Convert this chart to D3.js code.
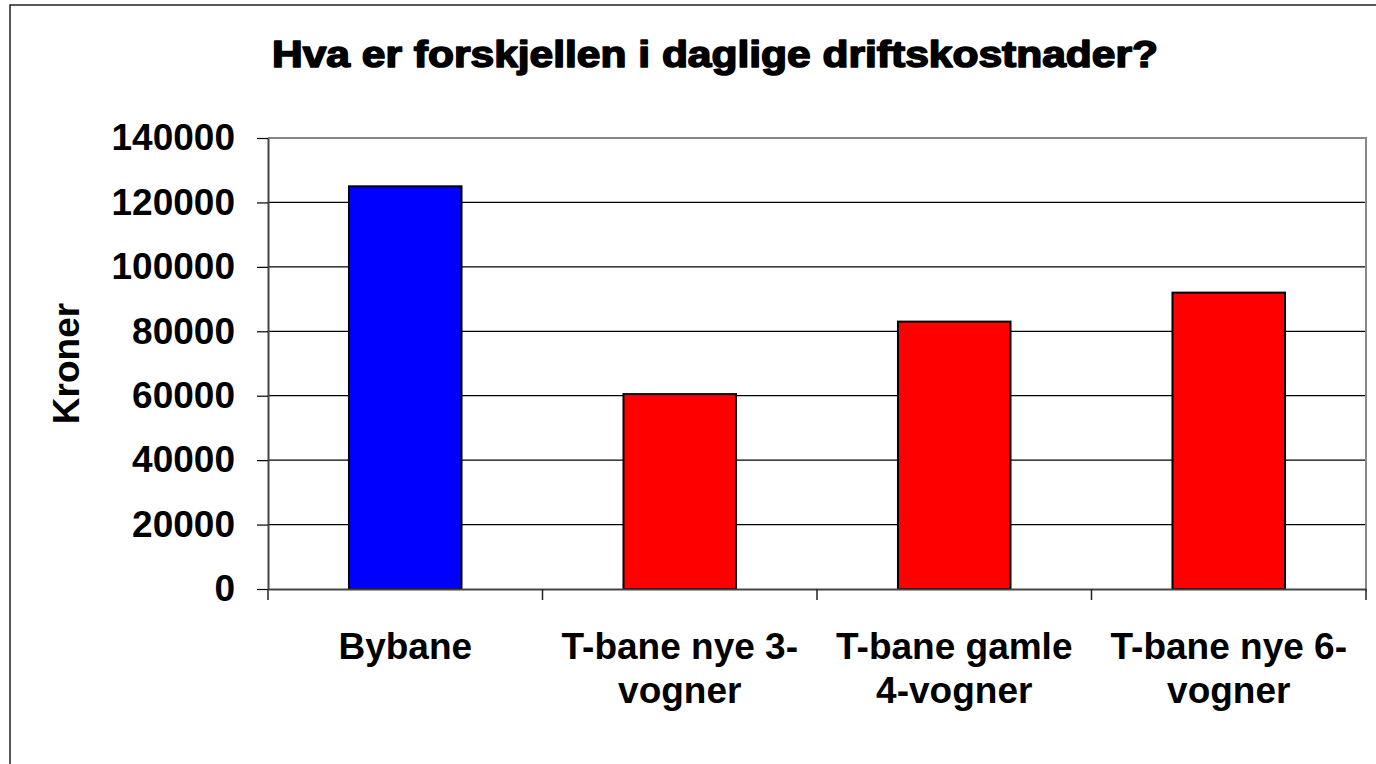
<!DOCTYPE html>
<html>
<head>
<meta charset="utf-8">
<script src="https://cdn.jsdelivr.net/npm/d3@7"></script>
<style>
  body { margin: 0; background: #fff; }
  svg { display: block; }
  text { font-family: "Liberation Sans", Arial, sans-serif; font-weight: bold; fill: #000; }
</style>
</head>
<body>
<div id="chart"></div>
<script>
// data
const categories = ["Bybane", "T-bane nye 3-vogner", "T-bane gamle 4-vogner", "T-bane nye 6-vogner"];
const labelLines = [["Bybane"], ["T-bane nye 3-", "vogner"], ["T-bane gamle", "4-vogner"], ["T-bane nye 6-", "vogner"]];
const values = [125000, 60500, 83000, 92000];
const barColors = ["#0000ff", "#ff0000", "#ff0000", "#ff0000"];
const yTicks = [0, 20000, 40000, 60000, 80000, 100000, 120000, 140000];

const W = 1376, H = 764;
const plot = { left: 268, right: 1366, top: 138, bottom: 589 };

let svg = d3.select("#chart").append("svg").attr("width", W).attr("height", H);

// outer frame (runs off the right / bottom edge)
svg.append("rect")
    .attr("x", 10).attr("y", 5)
    .attr("width", 1400).attr("height", 800)
    .attr("fill", "none").attr("stroke", "#222").attr("stroke-width", 1.5);

let x = d3.scaleBand().domain(categories).range([plot.left, plot.right]).paddingInner(0).paddingOuter(0);
let y = d3.scaleLinear().domain([0, 140000]).range([plot.bottom, plot.top]);

// gridlines
svg.append("g").selectAll("line")
    .data(yTicks.filter(d => d > 0 && d < 140000))
    .enter().append("line")
    .attr("x1", plot.left).attr("x2", plot.right)
    .attr("y1", d => y(d)).attr("y2", d => y(d))
    .attr("stroke", "#000").attr("stroke-width", 1.2);

// plot area border (top + right, grey)
svg.append("path")
    .attr("d", `M${plot.left},${plot.top}H${plot.right}V${plot.bottom}`)
    .attr("fill", "none").attr("stroke", "#888").attr("stroke-width", 2);

// bars
let bw = x.bandwidth() * 0.41;
svg.append("g").selectAll("rect")
    .data(values)
    .enter().append("rect")
    .attr("x", (d, i) => x(categories[i]) + (x.bandwidth() - bw) / 2)
    .attr("y", d => y(d))
    .attr("width", bw)
    .attr("height", d => y(0) - y(d))
    .attr("fill", (d, i) => barColors[i])
    .attr("stroke", "#000").attr("stroke-width", 2);

// y axis
let yAxis = svg.append("g")
    .attr("transform", `translate(${plot.left},0)`)
    .call(d3.axisLeft(y).tickValues(yTicks).tickFormat(d3.format("d")).tickSize(11).tickSizeOuter(0).tickPadding(22));
yAxis.select(".domain").attr("stroke", "#444").attr("stroke-width", 2);
yAxis.selectAll(".tick line").attr("stroke", "#000").attr("stroke-width", 1.2);
yAxis.selectAll(".tick text")
    .attr("font-size", 37).attr("font-family", "Liberation Sans, Arial, sans-serif")
    .attr("font-weight", "bold").attr("fill", "#000");

// x axis
let xAxis = svg.append("g")
    .attr("transform", `translate(0,${plot.bottom})`)
    .call(d3.axisBottom(x).tickSize(0).tickFormat(""));
xAxis.select(".domain").attr("stroke", "#444").attr("stroke-width", 2);
xAxis.selectAll(".tick").remove();

// category separators
let seps = [plot.left].concat(categories.map(c => x(c) + x.bandwidth()));
svg.append("g").selectAll("line")
    .data(seps)
    .enter().append("line")
    .attr("x1", d => d).attr("x2", d => d)
    .attr("y1", plot.bottom).attr("y2", plot.bottom + 11)
    .attr("stroke", "#222").attr("stroke-width", 1.5);

// category labels
let lbl = svg.append("g").selectAll("text")
    .data(labelLines)
    .enter().append("text")
    .attr("text-anchor", "middle")
    .attr("font-size", 37)
    .attr("x", (d, i) => x(categories[i]) + x.bandwidth() / 2)
    .attr("y", 659);
lbl.selectAll("tspan")
    .data((d, i) => d.map(t => ({ t, cx: x(categories[i]) + x.bandwidth() / 2 })))
    .enter().append("tspan")
    .attr("x", d => d.cx)
    .attr("dy", (d, j) => j === 0 ? 0 : 44)
    .text(d => d.t);

// y axis title
svg.append("text")
    .attr("transform", `translate(79,${(plot.top + plot.bottom) / 2}) rotate(-90)`)
    .attr("text-anchor", "middle")
    .attr("font-size", 37)
    .text("Kroner");

// chart title (heavy face faked with a stroke)
svg.append("text")
    .attr("x", 272).attr("y", 67)
    .attr("font-family", "DejaVu Sans, sans-serif")
    .attr("font-weight", "bold")
    .attr("font-size", 37)
    .attr("stroke", "#000").attr("stroke-width", 1.6)
    .attr("stroke-linejoin", "round")
    .attr("textLength", 886)
    .attr("lengthAdjust", "spacingAndGlyphs")
    .text("Hva er forskjellen i daglige driftskostnader?");
</script>
</body>
</html>
